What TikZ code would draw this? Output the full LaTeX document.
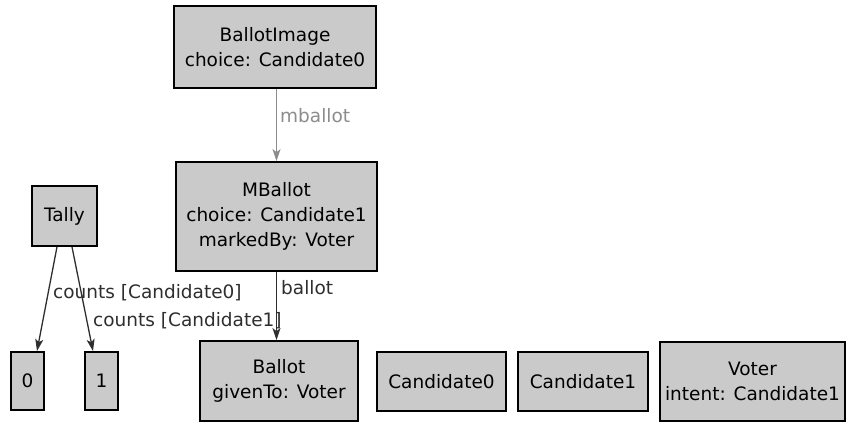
\documentclass[tikz,border=0pt]{standalone}
\usepackage{fontspec}
\setmainfont{DejaVu Sans}
\usetikzlibrary{arrows.meta,calc}
\definecolor{boxfill}{HTML}{CACACA}
\definecolor{lightedge}{HTML}{8C8C8C}
\definecolor{darkedge}{HTML}{2E2E2E}
\tikzset{
  umlbox/.style={draw=black, line width=1.8pt, fill=boxfill, inner sep=0pt, align=center,
    font=\fontsize{18.5}{25}\selectfont},
  lbl/.style={anchor=west, inner sep=0pt, font=\fontsize{18.5}{22}\selectfont},
  conn/.style={line width=1.3pt, -{Stealth[length=12pt,width=8pt,inset=3pt]}},
}
\begin{document}
\begin{tikzpicture}[x=1pt,y=-1pt]
\useasboundingbox (0,0) rectangle (846,423);
\node[umlbox, minimum width=202pt, minimum height=82pt] (bimg) at (275,47) {BallotImage\\choice: Candidate0};
\node[umlbox, minimum width=201pt, minimum height=109pt] (mb) at (276.5,216.5) {MBallot\\choice: Candidate1\\markedBy: Voter};
\node[umlbox, minimum width=65pt, minimum height=60pt] (tally) at (64.5,216) {Tally};
\node[umlbox, minimum width=33pt, minimum height=58pt] (z) at (27.5,381) {0};
\node[umlbox, minimum width=33pt, minimum height=58pt] (o) at (101.5,381) {1};
\node[umlbox, minimum width=158pt, minimum height=80pt] (ballot) at (279,381) {Ballot\\givenTo: Voter};
\node[umlbox, minimum width=129pt, minimum height=59pt] (c0) at (441.5,381.5) {Candidate0};
\node[umlbox, minimum width=130pt, minimum height=59pt] (c1) at (583,381.5) {Candidate1};
\node[umlbox, minimum width=185pt, minimum height=79pt] (voter) at (752.5,381.5) {Voter\\intent: Candidate1};

\draw[conn, draw=lightedge] (bimg.south -| mb.north) -- (mb.north);
\draw[conn, draw=darkedge] (mb.south) -- (ballot.north -| mb.south);
\draw[conn, draw=darkedge] ($(tally.south)+(-7.5,0)$) -- ($(z.north)+(9.5,0)$);
\draw[conn, draw=darkedge] ($(tally.south)+(7.5,0)$) -- ($(o.north)+(-8.5,0)$);

\node[lbl, text=lightedge] (l1) at (280,116) {mballot};
\node[lbl, text=darkedge] (l2) at (281,288) {ballot};
\node[lbl, text=darkedge] (l3) at (53,293) {counts [Candidate0]};
\node[lbl, text=darkedge] (l4) at (93,321) {counts [Candidate1]};
\end{tikzpicture}
\end{document}
